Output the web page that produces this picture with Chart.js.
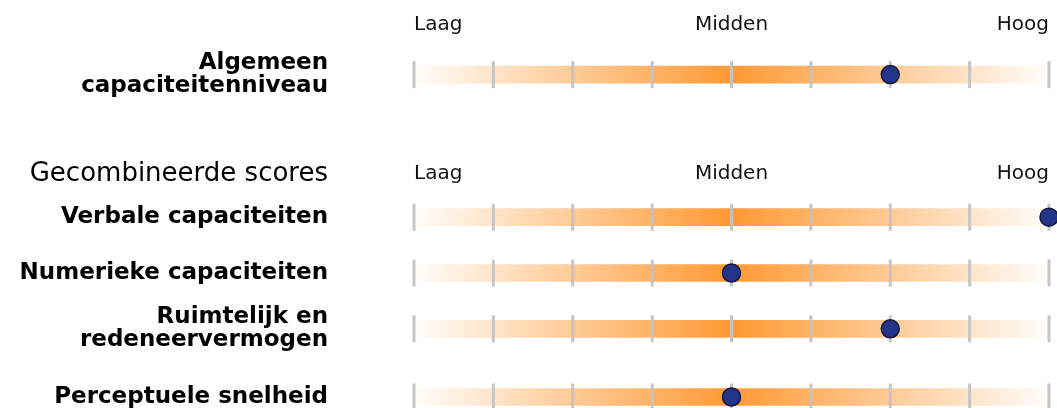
<!DOCTYPE html>
<html>
<head>
<meta charset="utf-8">
<script src="https://cdn.jsdelivr.net/npm/chart.js@4/dist/chart.umd.min.js"></script>
<style>
  body { margin: 0; background: #fff; }
  #wrap { width: 1057px; height: 408px; }
</style>
</head>
<body>
<div id="wrap"><canvas id="canvas1"></canvas></div>
<script>
// scale labels shown above each block
let headerLabels = ['Laag', 'Midden', 'Hoog'];
let headerValues = [1, 5, 9];

// the 9 steps of the score scale (one grey tick each)
let scaleSteps = [1, 2, 3, 4, 5, 6, 7, 8, 9];

// section titles (the first block has none)
let sectionTitles = ['', 'Gecombineerde scores'];

// score names and the score (1 = Laag, 9 = Hoog)
let scoreNames = [
  ['Algemeen', 'capaciteitenniveau'],
  'Verbale capaciteiten',
  'Numerieke capaciteiten',
  ['Ruimtelijk en', 'redeneervermogen'],
  'Perceptuele snelheid'
];
let scores = [7, 9, 5, 7, 5];

// vertical layout: rows sit on a grid of small slots
let slotCount = 61;
let sectionSlots = [0, 24];
let scoreSlots = [8, 31, 40, 49, 60];

// build the category labels (empty slots are spacers)
let yLabels = [];
for (let i = 0; i < slotCount; i++) {
  yLabels.push('');
}
for (let i = 0; i < sectionTitles.length; i++) {
  yLabels[sectionSlots[i]] = sectionTitles[i];
}
for (let i = 0; i < scoreNames.length; i++) {
  yLabels[scoreSlots[i]] = scoreNames[i];
}

function emptyRow() {
  return yLabels.map(function() { return null; });
}

// one floating bar per score row, from the lowest to the highest step
let barData = emptyRow();
let dotData = emptyRow();
for (let i = 0; i < scores.length; i++) {
  barData[scoreSlots[i]] = [scaleSteps[0], scaleSteps[scaleSteps.length - 1]];
  dotData[scoreSlots[i]] = scores[i];
}

Chart.defaults.font.family = 'Verdana, "DejaVu Sans", sans-serif';
Chart.defaults.color = '#000';

// orange fading out to both ends
function barGradient(context) {
  let area = context.chart.chartArea;
  if (!area) return 'rgba(255,153,51,0.5)';
  let g = context.chart.ctx.createLinearGradient(area.left, 0, area.right, 0);
  g.addColorStop(0, 'rgba(255,153,51,0.02)');
  g.addColorStop(0.5, 'rgba(255,153,51,1)');
  g.addColorStop(1, 'rgba(255,153,51,0.02)');
  return g;
}

let datasets = [];

// the dot with the score
datasets.push({
  type: 'line',
  data: dotData,
  showLine: false,
  pointRadius: 9,
  pointHoverRadius: 9,
  pointBackgroundColor: '#243589',
  pointBorderColor: '#14183a',
  pointBorderWidth: 1.5,
  clip: false,
  order: 1
});

// one dataset of grey tick marks per scale step
for (let j = 0; j < scaleSteps.length; j++) {
  let tickRow = emptyRow();
  for (let i = 0; i < scoreSlots.length; i++) {
    tickRow[scoreSlots[i]] = scaleSteps[j];
  }
  datasets.push({
    type: 'line',
    data: tickRow,
    showLine: false,
    pointStyle: 'line',
    pointRotation: 90,
    pointRadius: 13.5,
    pointHoverRadius: 13.5,
    pointBorderColor: 'rgba(195,195,195,0.95)',
    pointBorderWidth: 3,
    clip: false,
    order: 2
  });
}

// the orange bar behind everything
datasets.push({
  type: 'bar',
  data: barData,
  backgroundColor: barGradient,
  borderWidth: 0,
  barThickness: 17,
  clip: false,
  order: 3
});

// Laag / Midden / Hoog above each block
let headerPlugin = {
  id: 'headers',
  afterDatasetsDraw: function(chart) {
    let ctx = chart.ctx;
    let xs = chart.scales.x;
    let ys = chart.scales.y;
    let aligns = ['left', 'center', 'right'];
    ctx.save();
    ctx.font = '20px Verdana, "DejaVu Sans", sans-serif';
    ctx.fillStyle = '#111';
    ctx.textBaseline = 'middle';
    for (let s = 0; s < sectionSlots.length; s++) {
      for (let k = 0; k < headerLabels.length; k++) {
        ctx.textAlign = aligns[k];
        ctx.fillText(headerLabels[k], xs.getPixelForValue(headerValues[k]), ys.getPixelForValue(sectionSlots[s]));
      }
    }
    ctx.restore();
  }
};

let options = {
  type: 'bar',
  data: {
    labels: yLabels,
    datasets: datasets
  },
  options: {
    indexAxis: 'y',
    responsive: true,
    maintainAspectRatio: false,
    animation: false,
    events: [],
    layout: { padding: { top: 25, bottom: 11, left: 0, right: 8 }, autoPadding: false },
    plugins: {
      legend: { display: false },
      tooltip: { enabled: false }
    },
    scales: {
      x: {
        type: 'linear',
        min: 1,
        max: 9,
        offset: false,
        display: false
      },
      y: {
        type: 'category',
        offset: false,
        grid: { display: false, drawTicks: false, offset: false },
        border: { display: false },
        afterFit: function(scale) {
          scale.width = 414;
          scale.paddingTop = 0;
          scale.paddingBottom = 0;
        },
        ticks: {
          autoSkip: false,
          padding: 86,
          color: '#000',
          font: function(ctx) {
            if (ctx.index === sectionSlots[1]) {
              return { size: 26, weight: 'normal', lineHeight: 1.15 };
            }
            return { size: 23, weight: 'bold', lineHeight: 1.0 };
          }
        }
      }
    }
  },
  plugins: [headerPlugin]
};

let chart = new Chart(document.getElementById('canvas1'), options);
</script>
</body>
</html>
